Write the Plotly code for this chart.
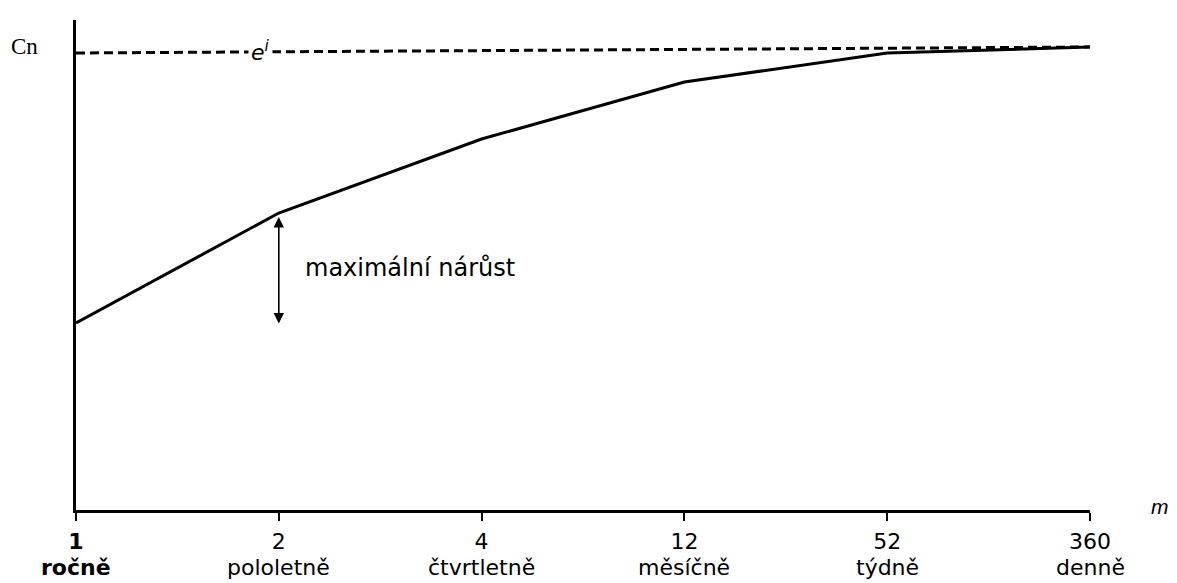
import plotly.graph_objects as go

# Data
m_values = ["1", "2", "4", "12", "52", "360"]
m_names = ["ročně", "pololetně", "čtvrtletně", "měsíčně", "týdně", "denně"]
cn_values = [187, 297, 371, 428, 457, 463]
e_limit = [457, 463]  # dashed limit line e^i (start, end)
arrow_top = 293
arrow_bottom = 185

xpos = list(range(len(m_values)))
ticktext = [f"<b>{v}</b>" if i == 0 else v for i, v in enumerate(m_values)]

FONT = "DejaVu Sans, Liberation Sans, Arial, sans-serif"

fig = go.Figure()
fig.add_trace(go.Scatter(x=[xpos[0], xpos[-1]], y=e_limit, mode="lines",
                         line=dict(color="black", width=3, dash="9px,5px"),
                         hoverinfo="skip", showlegend=False))
fig.add_trace(go.Scatter(x=xpos, y=cn_values, mode="lines",
                         line=dict(color="black", width=3),
                         showlegend=False))

# category names under the tick numbers
for i, n in enumerate(m_names):
    fig.add_annotation(x=xpos[i], y=-57 / 490, xref="x", yref="paper",
                       text=f"<b>{n}</b>" if i == 0 else n, showarrow=False,
                       xanchor="center", yanchor="middle",
                       font=dict(family=FONT, size=22, color="black"))

fig.add_annotation(x=1, y=arrow_top, ax=1, ay=arrow_bottom, xref="x", yref="y",
                   axref="x", ayref="y", text="", showarrow=True,
                   arrowhead=2, startarrowhead=2, arrowside="end+start",
                   arrowsize=1.3, startarrowsize=1.3, arrowwidth=1.6, arrowcolor="black")
fig.add_annotation(x=1.12, y=242, xref="x", yref="y", text="maximální nárůst",
                   showarrow=False, xanchor="left", yanchor="middle",
                   font=dict(family=FONT, size=24, color="black"))
fig.add_annotation(x=0.91, y=459, xref="x", yref="y", text="<i>e</i><sup><i>i</i></sup>",
                   showarrow=False, bgcolor="white", borderpad=2,
                   font=dict(family=FONT, size=22, color="black"))
fig.add_annotation(x=-0.051, y=464, xref="paper", yref="y", text="Cn",
                   showarrow=False, xanchor="center", yanchor="middle",
                   font=dict(family="Liberation Serif, Times New Roman, serif", size=23, color="black"))
fig.add_annotation(x=1.069, y=4, xref="paper", yref="y", text="<i>m</i>",
                   showarrow=False, xanchor="center", yanchor="middle",
                   font=dict(family="Liberation Sans, Arial, sans-serif", size=21, color="black"))

fig.update_xaxes(range=[0, 5], tickvals=xpos, ticktext=ticktext, showline=True,
                 linecolor="black", linewidth=2.5, ticks="outside", ticklen=8,
                 tickwidth=2, tickcolor="black", showgrid=False, zeroline=False,
                 ticklabelstandoff=2,
                 tickfont=dict(family=FONT, size=22, color="black"))
fig.update_yaxes(range=[0, 490], showline=True, linecolor="black", linewidth=3,
                 showticklabels=False, ticks="", showgrid=False, zeroline=False)
fig.update_layout(width=1177, height=583, plot_bgcolor="white", paper_bgcolor="white",
                  margin=dict(l=68, r=95, t=12, b=81))
fig.write_html("out.html")
